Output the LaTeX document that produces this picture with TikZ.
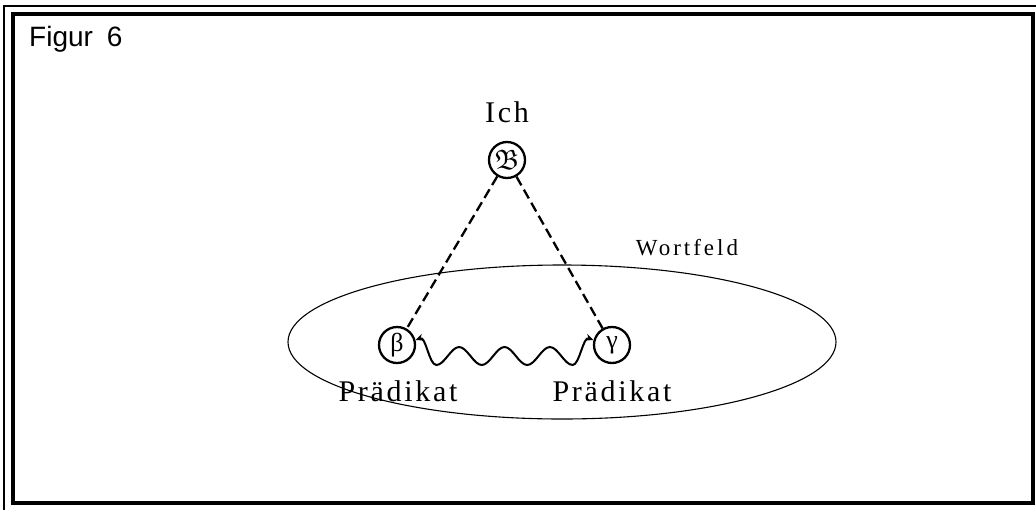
\documentclass[tikz,border=0pt]{standalone}
\usepackage{fontspec}
\usepackage{amssymb}
\setmainfont{Liberation Serif}
\newfontfamily\figfont{Liberation Sans}
\usetikzlibrary{arrows.meta}
\begin{document}
\begin{tikzpicture}[x=1pt,y=-1pt,
  circ/.style={draw, circle, line width=2.3pt, minimum size=36pt, inner sep=0pt},
  lbl/.style={anchor=base, inner sep=0pt, font=\fontsize{30}{34}\selectfont\addfontfeature{LetterSpace=9}},
  dashline/.style={line width=2.3pt, dash pattern=on 10pt off 5pt},
  wave/.style={line width=2pt, {Stealth[length=8pt,width=7pt]}-{Stealth[length=8pt,width=7pt]}},
  frameouter/.style={line width=1.3pt},
  frameinner/.style={line width=3.2pt},
  field/.style={line width=1.1pt}]
\useasboundingbox (0,0) rectangle (1036,509);
\clip (0,0) rectangle (1036,509);
\fill[white] (0,0) rectangle (1036,509);
% frame
\draw[frameouter] (4,6) rectangle (1045,520);
\draw[frameinner] (13,14) rectangle (1033,503);
% title
\node[anchor=base west, inner sep=0pt, font=\figfont\fontsize{28}{32}\selectfont] (fig) at (29,46) {Figur\hspace{0.5em}6};
% field ellipse
\draw[field] (562,342) ellipse [x radius=274, y radius=77];
% nodes
\node[circ] (B) at (507,160) {\fontsize{28}{28}\selectfont$\mathfrak{B}$};
\node[lbl] (ich) at (507,122) {Ich};
\node[circ] (b) at (397,345) {\fontsize{26}{26}\selectfont β};
\node[circ] (g) at (612,345) {\fontsize{26}{26}\selectfont γ};
\node[lbl] (pl) at (398,401) {Prädikat};
\node[lbl] (pr) at (612,401) {Prädikat};
\node[lbl, font=\fontsize{23}{26}\selectfont\addfontfeature{LetterSpace=13}] (wf) at (687,255) {Wortfeld};
% connectors
\draw[dashline] (B) -- (b);
\draw[dashline] (B) -- (g);
\draw[wave] (b.15) .. controls (426,336) and (429,365) .. (436.4,365)
  .. controls (444.4,365) and (451.1,347) .. (459.1,347)
  .. controls (467.1,347) and (473.8,365) .. (481.8,365)
  .. controls (489.8,365) and (496.5,347) .. (504.5,347)
  .. controls (512.5,347) and (519.2,365) .. (527.2,365)
  .. controls (535.2,365) and (541.9,347) .. (549.9,347)
  .. controls (557.9,347) and (564.6,365) .. (572.6,365)
  .. controls (579.6,365) and (583,336) .. (g.165);
\end{tikzpicture}
\end{document}
